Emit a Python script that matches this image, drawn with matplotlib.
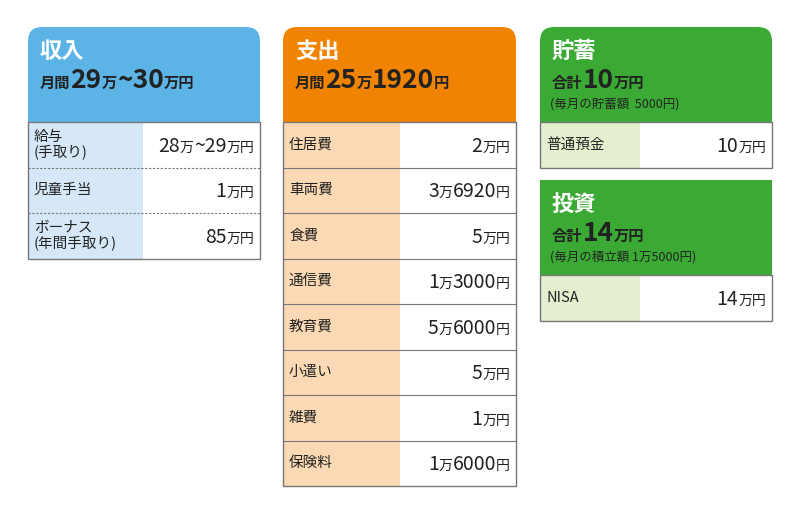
import re
import matplotlib.pyplot as plt
from matplotlib.patches import FancyBboxPatch, Rectangle

plt.rcParams['font.family'] = ['Noto Sans CJK JP', 'DejaVu Sans']

income_labels = ['給与\n(手取り)', '児童手当', 'ボーナス\n(年間手取り)']
income_values = ['28万~29万円', '1万円', '85万円']
expense_labels = ['住居費', '車両費', '食費', '通信費', '教育費', '小遣い', '雑費', '保険料']
expense_values = ['2万円', '3万6920円', '5万円', '1万3000円', '5万6000円', '5万円', '1万円', '1万6000円']
saving_labels = ['普通預金']
saving_values = ['10万円']
invest_labels = ['NISA']
invest_values = ['14万円']

fig = plt.figure(figsize=(8, 5.15), dpi=100)
ax = fig.add_axes([0, 0, 1, 1])
ax.set_xlim(0, 800)
ax.set_ylim(515, 0)
ax.axis('off')
renderer = fig.canvas.get_renderer()


def rich(x, y, pieces, align='left', color='#222222'):
    """pieces: list of (text, size, weight); y is baseline in px"""
    objs = []
    for s, size, w in pieces:
        t = ax.text(0, y, s, fontsize=size, fontweight=w, color=color, va='baseline', ha='left')
        objs.append(t)
    widths = [t.get_window_extent(renderer).width for t in objs]
    cx = x - sum(widths) if align == 'right' else x
    for t, w in zip(objs, widths):
        t.set_x(cx)
        cx += w


def split_value(v, big, small):
    parts = re.findall(r'[0-9~]+|[^0-9~]+', v)
    return [(p, big if re.match(r'[0-9~]', p) else small, 'normal') for p in parts]


def header(x0, x1, y0, y1, color, rounded=True):
    if rounded:
        ax.add_patch(FancyBboxPatch((x0, y0), x1 - x0, (y1 - y0) + 20,
                                    boxstyle='round,pad=0,rounding_size=14', fc=color, ec='none'))
        ax.add_patch(Rectangle((x0, y1 - 10), x1 - x0, 30, fc=color, ec='none'))
    else:
        ax.add_patch(Rectangle((x0, y0), x1 - x0, y1 - y0, fc=color, ec='none'))


def table(x0, xm, x1, y0, rh, labels, values, lab_bg, dashed=False):
    n = len(labels)
    ax.add_patch(Rectangle((x0, y0), x1 - x0, rh * n, fc='white', ec='none', zorder=2))
    ax.add_patch(Rectangle((x0, y0), xm - x0, rh * n, fc=lab_bg, ec='none', zorder=2))
    for i, (lab, val) in enumerate(zip(labels, values)):
        yc = y0 + rh * (i + 0.5)
        ax.text(x0 + 6, yc, lab, fontsize=10.5, color='#222222', va='center', ha='left',
                linespacing=1.0, zorder=3)
        rich(x1 - 6, yc + 7, split_value(val, 14, 10), align='right')
        if i > 0:
            ax.plot([x0, x1], [y0 + rh * i] * 2, color='#777777', lw=0.8,
                    ls=(0, (2, 1.5)) if dashed else '-', zorder=3)
    ax.add_patch(Rectangle((x0, y0), x1 - x0, rh * n, fc='none', ec='#777777', lw=1, zorder=4))


# 収入
header(28, 260, 27, 122, '#5bb4e5')
ax.text(40, 58, '収入', fontsize=16, fontweight='bold', color='white', va='baseline')
rich(40, 88, [('月間', 11, 'bold'), ('29', 19, 'bold'), ('万', 11, 'bold'),
              ('~30', 19, 'bold'), ('万円', 11, 'bold')])
table(28, 143, 260, 122, 45.5, income_labels, income_values, '#d6e8f7', dashed=True)

# 支出
header(283, 516, 27, 122, '#f08300')
ax.text(295, 58, '支出', fontsize=16, fontweight='bold', color='white', va='baseline')
rich(295, 88, [('月間', 11, 'bold'), ('25', 19, 'bold'), ('万', 11, 'bold'),
               ('1920', 19, 'bold'), ('円', 11, 'bold')])
table(283, 400, 516, 122, 45.5, expense_labels, expense_values, '#fbd9b5')

# 貯蓄
header(540, 772, 27, 122, '#3aaa35')
ax.text(552, 58, '貯蓄', fontsize=16, fontweight='bold', color='white', va='baseline')
rich(552, 88, [('合計', 11, 'bold'), ('10', 19, 'bold'), ('万円', 11, 'bold')])
ax.text(550, 108, '(毎月の貯蓄額  5000円)', fontsize=9, color='#222222', va='baseline')
table(540, 640, 772, 122, 45.5, saving_labels, saving_values, '#e3efcf')

# 投資
header(540, 772, 180, 275, '#3aaa35', rounded=False)
ax.text(552, 211, '投資', fontsize=16, fontweight='bold', color='white', va='baseline')
rich(552, 241, [('合計', 11, 'bold'), ('14', 19, 'bold'), ('万円', 11, 'bold')])
ax.text(550, 261, '(毎月の積立額 1万5000円)', fontsize=9, color='#222222', va='baseline')
table(540, 640, 772, 275, 46, invest_labels, invest_values, '#e3efcf')

fig.savefig('out.png', dpi=100)
